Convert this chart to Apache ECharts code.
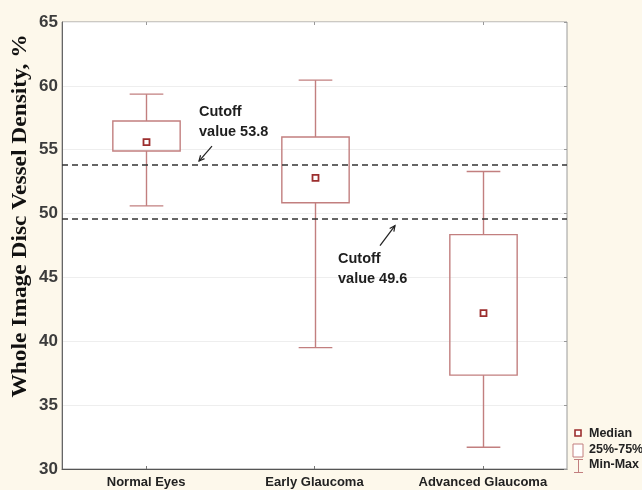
<!DOCTYPE html>
<html>
<head>
<meta charset="utf-8">
<script src="https://cdn.jsdelivr.net/npm/echarts@6/dist/echarts.min.js"></script>
<style>
  html, body { margin: 0; padding: 0; background: #fdf8eb; }
  #chart { width: 642px; height: 490px; }
</style>
</head>
<body>
<div id="chart"></div>
<script>
// Vessel density by group: min, quartiles, median, max
const categories = ['Normal Eyes', 'Early Glaucoma', 'Advanced Glaucoma'];
const minValues = [50.6, 39.5, 31.7];
const q1Values = [54.9, 50.85, 37.35];
const medianValues = [55.6, 52.8, 42.2];
const q3Values = [57.25, 56.0, 48.35];
const maxValues = [59.35, 60.45, 53.3];
const cutoffValues = [53.8, 49.6];
const yMin = 30, yMax = 65, yStep = 5;

const boxColor = '#c27f7f';
const medianColor = '#9c2e2e';
const labelFont = '"Liberation Sans", Arial, sans-serif';

const boxData = categories.map((c, i) =>
  [i, minValues[i], q1Values[i], medianValues[i], q3Values[i], maxValues[i]]);

function renderBox(params, api) {
  const i = api.value(0);
  const pMin = api.coord([i, api.value(1)]);
  const pQ1 = api.coord([i, api.value(2)]);
  const pMed = api.coord([i, api.value(3)]);
  const pQ3 = api.coord([i, api.value(4)]);
  const pMax = api.coord([i, api.value(5)]);
  const band = api.size([1, 0])[0];
  const bw = band * 0.4, cw = band * 0.2;
  const x = Math.round(pMed[0]) + 0.5;
  const st = { stroke: boxColor, lineWidth: 1.4, fill: null };
  return {
    type: 'group',
    children: [
      { type: 'line', shape: { x1: x, y1: pMax[1], x2: x, y2: pQ3[1] }, style: st },
      { type: 'line', shape: { x1: x, y1: pQ1[1], x2: x, y2: pMin[1] }, style: st },
      { type: 'line', shape: { x1: x - cw / 2, y1: pMax[1], x2: x + cw / 2, y2: pMax[1] }, style: st },
      { type: 'line', shape: { x1: x - cw / 2, y1: pMin[1], x2: x + cw / 2, y2: pMin[1] }, style: st },
      { type: 'rect', shape: { x: x - bw / 2, y: pQ3[1], width: bw, height: pQ1[1] - pQ3[1] },
        style: { stroke: boxColor, lineWidth: 1.4, fill: 'rgba(0,0,0,0)' } },
      { type: 'rect', shape: { x: x - 3, y: pMed[1] - 3, width: 6, height: 6 },
        style: { stroke: medianColor, lineWidth: 1.8, fill: '#fff' } }
    ]
  };
}

const chart = echarts.init(document.getElementById('chart'));
chart.setOption({
  animation: false,
  backgroundColor: '#fdf8eb',
  grid: {
    left: 62, right: 75, top: 22, bottom: 21,
    show: true, backgroundColor: '#ffffff', borderColor: '#9a9a9a', borderWidth: 1
  },
  xAxis: [{
    type: 'category',
    data: categories,
    axisLine: { lineStyle: { color: '#555', width: 1 } },
    axisTick: { show: true, inside: true, alignWithLabel: true, length: 3, lineStyle: { color: '#777' } },
    axisLabel: { color: '#222', fontFamily: labelFont, fontWeight: 'bold', fontSize: 13, margin: 7 },
    splitLine: { show: false }
  }, {
    type: 'category',
    position: 'top',
    data: categories,
    axisLine: { show: false },
    axisTick: { show: true, inside: true, alignWithLabel: true, length: 3, lineStyle: { color: '#999' } },
    axisLabel: { show: false }
  }],
  yAxis: [{
    type: 'value',
    min: yMin, max: yMax, interval: yStep,
    axisLine: { show: true, lineStyle: { color: '#666', width: 1 } },
    axisTick: { show: false },
    axisLabel: { color: '#3c3c3c', fontFamily: labelFont, fontWeight: 'bold', fontSize: 17, margin: 4 },
    splitLine: { show: true, lineStyle: { color: '#eeeeee', width: 1 } }
  }, {
    type: 'value',
    position: 'right',
    min: yMin, max: yMax, interval: yStep,
    axisLine: { show: false },
    axisTick: { show: true, inside: true, length: 3, lineStyle: { color: '#999' } },
    axisLabel: { show: false },
    splitLine: { show: false }
  }],
  series: [{
    type: 'custom',
    renderItem: renderBox,
    data: boxData,
    encode: { x: 0, y: [1, 2, 3, 4, 5] },
    z: 3,
    markLine: {
      silent: true,
      symbol: 'none',
      label: { show: false },
      lineStyle: { type: [6, 4], color: '#333', width: 1.5 },
      data: cutoffValues.map(v => ({ yAxis: v }))
    }
  }]
});

// Annotations and legend, anchored to the cutoff lines
const yHi = chart.convertToPixel({ yAxisIndex: 0 }, cutoffValues[0]);
const yLo = chart.convertToPixel({ yAxisIndex: 0 }, cutoffValues[1]);
const noteStyle = { fill: '#1e1e1e', font: 'bold 14.5px ' + labelFont, lineHeight: 20 };

function arrow(x1, y1, x2, y2) {
  const a = Math.atan2(y2 - y1, x2 - x1), h = 6, w = 0.45;
  return [
    { type: 'line', shape: { x1, y1, x2, y2 }, style: { stroke: '#222', lineWidth: 1.2 } },
    { type: 'polyline', shape: { points: [
      [x2 - h * Math.cos(a - w), y2 - h * Math.sin(a - w)], [x2, y2],
      [x2 - h * Math.cos(a + w), y2 - h * Math.sin(a + w)]] },
      style: { stroke: '#222', lineWidth: 1.2, fill: null } }
  ];
}

const legendX = 578;
chart.setOption({
  graphic: [
    { type: 'text', x: 21, y: 216, rotation: Math.PI / 2, scaleX: 1.17,
      style: { text: 'Whole Image Disc Vessel Density, %', fill: '#111',
               font: 'bold 20px "Liberation Serif", "Times New Roman", serif',
               align: 'center', verticalAlign: 'middle' } },
    { type: 'text', x: 199, y: yHi - 63,
      style: Object.assign({ text: 'Cutoff\nvalue ' + cutoffValues[0] }, noteStyle) },
    ...arrow(212, yHi - 19, 199, yHi - 4),
    { type: 'text', x: 338, y: yLo + 30,
      style: Object.assign({ text: 'Cutoff\nvalue ' + cutoffValues[1] }, noteStyle) },
    ...arrow(380, yLo + 27, 395, yLo + 7),
    // legend
    { type: 'rect', shape: { x: legendX - 3, y: 430, width: 6, height: 6 },
      style: { stroke: medianColor, lineWidth: 1.6, fill: '#fff' } },
    { type: 'text', x: 589, y: 434,
      style: { text: 'Median', fill: '#222', font: 'bold 12.5px ' + labelFont, verticalAlign: 'middle' } },
    { type: 'rect', shape: { x: legendX - 5, y: 444, width: 10, height: 13 },
      style: { stroke: boxColor, lineWidth: 1, fill: '#fff' } },
    { type: 'text', x: 589, y: 450,
      style: { text: '25%-75%', fill: '#222', font: 'bold 12.5px ' + labelFont, verticalAlign: 'middle' } },
    { type: 'line', shape: { x1: legendX + 0.5, y1: 459, x2: legendX + 0.5, y2: 472 },
      style: { stroke: boxColor, lineWidth: 1 } },
    { type: 'line', shape: { x1: legendX - 4, y1: 459.5, x2: legendX + 5, y2: 459.5 },
      style: { stroke: boxColor, lineWidth: 1 } },
    { type: 'line', shape: { x1: legendX - 4, y1: 472.5, x2: legendX + 5, y2: 472.5 },
      style: { stroke: boxColor, lineWidth: 1 } },
    { type: 'text', x: 589, y: 465,
      style: { text: 'Min-Max', fill: '#222', font: 'bold 12.5px ' + labelFont, verticalAlign: 'middle' } }
  ]
});
</script>
</body>
</html>
